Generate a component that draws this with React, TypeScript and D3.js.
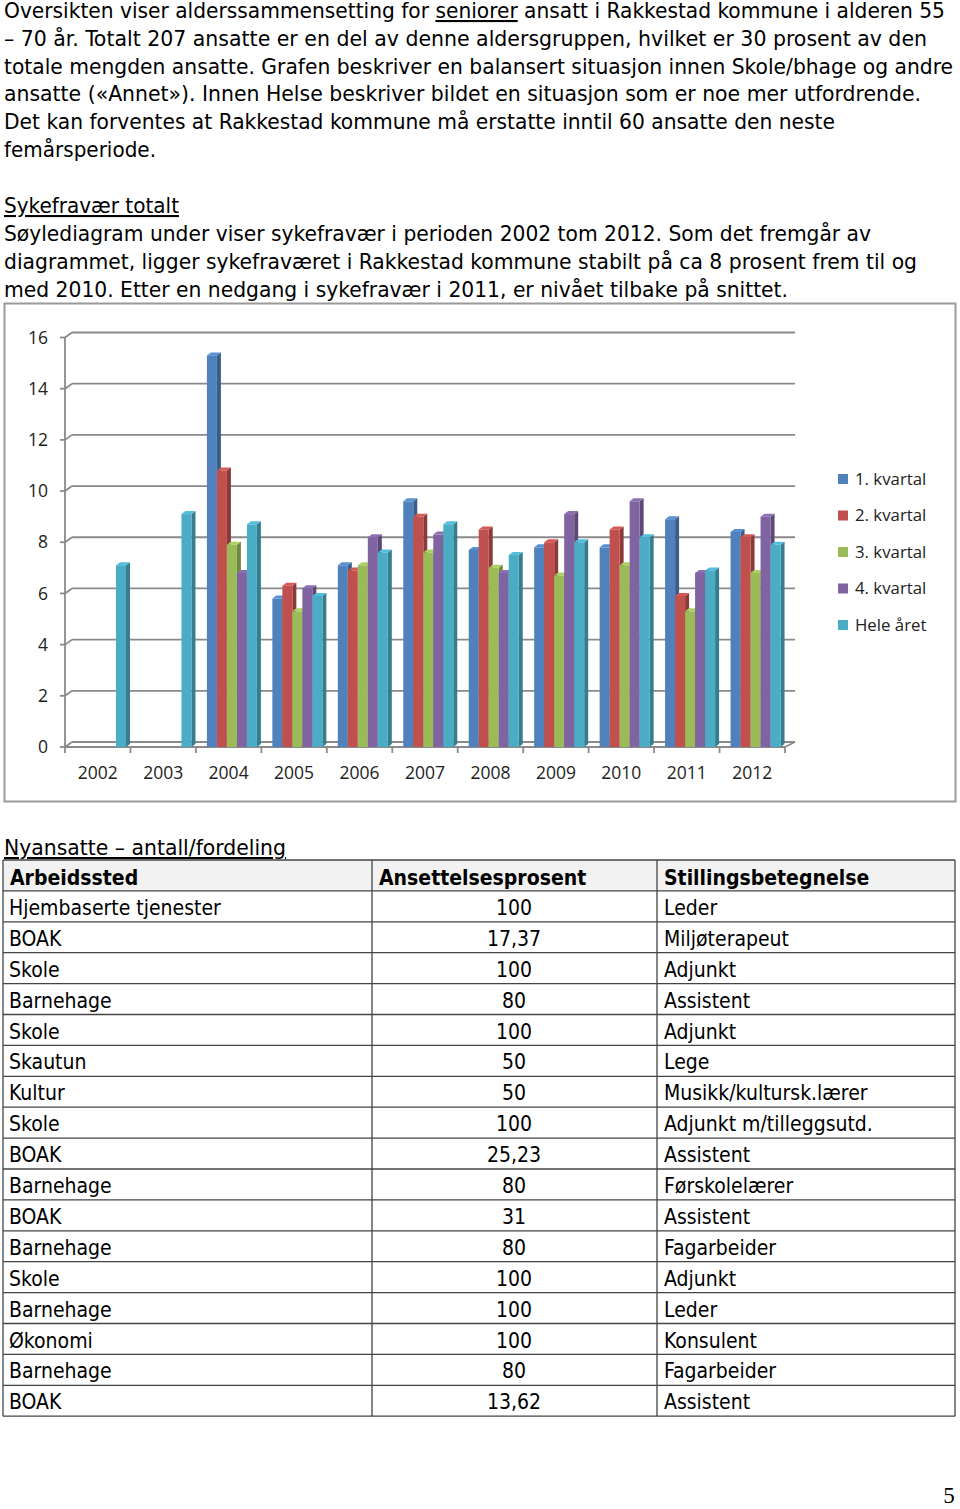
import React from "react";
import * as d3 from "d3";

const years = ["2002","2003","2004","2005","2006","2007","2008","2009","2010","2011","2012"];
const seriesNames = ["1. kvartal","2. kvartal","3. kvartal","4. kvartal","Hele året"];
const seriesColors = ["#4F81BD","#C0504D","#9BBB59","#8064A2","#4BACC6"];
const q1 = [null,null,15.3,5.8,7.1,9.6,7.7,7.8,7.8,8.9,8.4];
const q2 = [null,null,10.8,6.3,6.9,9.0,8.5,8.0,8.5,5.9,8.2];
const q3 = [null,null,7.9,5.3,7.1,7.6,7.0,6.7,7.1,5.3,6.8];
const q4 = [null,null,6.8,6.2,8.2,8.3,6.8,9.1,9.6,6.8,9.0];
const whole = [7.1,9.1,8.7,5.9,7.6,8.7,7.5,8.0,8.2,6.9,7.9];
const yTicks = [0,2,4,6,8,10,12,14,16];

const introLines = [
  "Oversikten viser alderssammensetting for |seniorer| ansatt i Rakkestad kommune i alderen 55",
  "– 70 år. Totalt 207 ansatte er en del av denne aldersgruppen, hvilket er 30 prosent av den",
  "totale mengden ansatte. Grafen beskriver en balansert situasjon innen Skole/bhage og andre",
  "ansatte («Annet»). Innen Helse beskriver bildet en situasjon som er noe mer utfordrende.",
  "Det kan forventes at Rakkestad kommune må erstatte inntil 60 ansatte den neste",
  "femårsperiode.",
];
const introWidths = [941, 923, 949, 917, 831, 152];
const sickTitle = "Sykefravær totalt";
const sickLines = [
  "Søylediagram under viser sykefravær i perioden 2002 tom 2012. Som det fremgår av",
  "diagrammet, ligger sykefraværet i Rakkestad kommune stabilt på ca 8 prosent frem til og",
  "med 2010. Etter en nedgang i sykefravær i 2011, er nivået tilbake på snittet.",
];
const sickWidths = [867, 913, 784];

const tableTitle = "Nyansatte – antall/fordeling";
const tableHeader = ["Arbeidssted","Ansettelsesprosent","Stillingsbetegnelse"];
const colWorkplace = ["Hjembaserte tjenester","BOAK","Skole","Barnehage","Skole","Skautun","Kultur","Skole","BOAK","Barnehage","BOAK","Barnehage","Skole","Barnehage","Økonomi","Barnehage","BOAK"];
const colPercent = ["100","17,37","100","80","100","50","50","100","25,23","80","31","80","100","100","100","80","13,62"];
const colTitle = ["Leder","Miljøterapeut","Adjunkt","Assistent","Adjunkt","Lege","Musikk/kultursk.lærer","Adjunkt m/tilleggsutd.","Assistent","Førskolelærer","Assistent","Fagarbeider","Adjunkt","Leder","Konsulent","Fagarbeider","Assistent"];

const BODY_FONT = "'DejaVu Sans Condensed', 'DejaVu Sans', sans-serif";
const CHART_FONT = "'Open Sans', sans-serif";

function renderLine(line: string, x: number, y: number, w: number, key: string) {
  const parts = line.split("|");
  return (
    <text key={key} x={x} y={y} fontFamily={BODY_FONT} fontSize={21} fill="#000" textLength={w} lengthAdjust="spacingAndGlyphs">
      {parts.map((p, i) => (
        <tspan key={i} textDecoration={i % 2 === 1 ? "underline" : undefined}>{p}</tspan>
      ))}
    </text>
  );
}

export default function App() {
  const W = 960, H = 1509;
  const xLeft = 65, xRight = 785;
  const y = d3.scaleLinear().domain([0, 16]).range([747, 337.5]);
  const x = d3.scaleBand().domain(years).range([xLeft, xRight]).paddingInner(0).paddingOuter(0);
  const inner = d3.scaleBand().domain(seriesNames).range([11, 61]).padding(0);
  const depthX = 7, depthY = -5;
  const bDx = 4, bDy = -3;
  const allSeries = [q1, q2, q3, q4, whole];

  const bars: any[] = [];
  allSeries.forEach((vals, s) => {
    vals.forEach((v, i) => {
      if (v == null) return;
      const bx = (x(years[i]) as number) + (inner(seriesNames[s]) as number);
      const bw = inner.bandwidth();
      const top = y(v);
      const base = y(0);
      const col = seriesColors[s];
      const dark = d3.color(col)!.darker(0.9).toString();
      const light = d3.color(col)!.brighter(0.3).toString();
      bars.push({ key: `${s}-${i}`, bx, bw, top, base, col, dark, light, order: i * 10 + s });
    });
  });
  bars.sort((a, b) => a.order - b.order);

  const rowTop = 860, rowH = 30.9;
  const colX = [3, 372, 657, 955];
  const nRows = colWorkplace.length + 1;
  const gridCol = "#8a8a8a";

  return (
    <svg width={W} height={H} style={{ position: "absolute", left: 0, top: 0, background: "#fff" }}>
      <rect x={0} y={0} width={W} height={H} fill="#fff" />
      {introLines.map((l, i) => renderLine(l, 4, 18 + i * 27.8, introWidths[i], "intro" + i))}
      <text x={4} y={213} fontFamily={BODY_FONT} fontSize={21} textDecoration="underline" textLength={175} lengthAdjust="spacingAndGlyphs">{sickTitle}</text>
      {sickLines.map((l, i) => renderLine(l, 4, 241 + i * 27.8, sickWidths[i], "sick" + i))}

      <rect x={4.5} y={303.5} width={951} height={498} fill="#fff" stroke="#9a9a9a" strokeWidth={2} />
      {yTicks.map((t) => (
        <g key={"g" + t}>
          <line x1={xLeft - 5} x2={xLeft} y1={y(t)} y2={y(t)} stroke={gridCol} strokeWidth={1.8} />
          <line x1={xLeft} x2={xLeft + depthX} y1={y(t)} y2={y(t) + depthY} stroke={gridCol} strokeWidth={1.8} />
          <line x1={xLeft + depthX} x2={xRight + depthX + 3} y1={y(t) + depthY} y2={y(t) + depthY} stroke={gridCol} strokeWidth={1.8} />
          <text x={48} y={y(t)} dy="0.35em" textAnchor="end" fontFamily={CHART_FONT} fontSize={17.5} fill="#222">{t}</text>
        </g>
      ))}
      <line x1={xLeft} x2={xLeft} y1={y(16)} y2={y(0)} stroke={gridCol} strokeWidth={1.8} />
      <line x1={xLeft} x2={xRight} y1={y(0)} y2={y(0)} stroke={gridCol} strokeWidth={1.8} />
      <line x1={xRight} x2={xRight + depthX + 3} y1={y(0)} y2={y(0) + depthY} stroke={gridCol} strokeWidth={1.8} />
      {years.concat(["end"]).map((yr, i) => {
        const xx = xLeft + i * x.step();
        return <line key={"xt" + i} x1={xx} x2={xx} y1={y(0)} y2={y(0) + 6} stroke={gridCol} strokeWidth={1.8} />;
      })}
      {years.map((yr) => (
        <text key={"xl" + yr} x={(x(yr) as number) + x.bandwidth() / 2} y={773} dy="0.35em" textAnchor="middle" fontFamily={CHART_FONT} fontSize={17.5} fill="#222">{yr}</text>
      ))}
      {bars.map((b) => (
        <g key={b.key}>
          <polygon points={`${b.bx + b.bw},${b.top} ${b.bx + b.bw + bDx},${b.top + bDy} ${b.bx + b.bw + bDx},${b.base + bDy} ${b.bx + b.bw},${b.base}`} fill={b.dark} />
          <polygon points={`${b.bx},${b.top} ${b.bx + bDx},${b.top + bDy} ${b.bx + b.bw + bDx},${b.top + bDy} ${b.bx + b.bw},${b.top}`} fill={b.light} />
          <rect x={b.bx} y={b.top} width={b.bw} height={b.base - b.top} fill={b.col} />
        </g>
      ))}
      {seriesNames.map((n, i) => (
        <g key={"lg" + i} transform={`translate(838, ${479 + i * 36.5})`}>
          <rect x={0} y={-5} width={10} height={10} fill={seriesColors[i]} />
          <text x={17} y={0} dy="0.35em" fontFamily={CHART_FONT} fontSize={16.8} fill="#222">{n}</text>
        </g>
      ))}

      <text x={4} y={855} fontFamily={BODY_FONT} fontSize={21} textDecoration="underline" textLength={282} lengthAdjust="spacingAndGlyphs">{tableTitle}</text>
      <rect x={colX[0]} y={rowTop} width={colX[3] - colX[0]} height={rowH} fill="#f2f2f2" />
      {d3.range(nRows + 1).map((r) => (
        <line key={"hr" + r} x1={colX[0]} x2={colX[3]} y1={rowTop + r * rowH} y2={rowTop + r * rowH} stroke="#444" strokeWidth={1.3} />
      ))}
      {colX.map((cx, i) => (
        <line key={"vc" + i} x1={cx} x2={cx} y1={rowTop} y2={rowTop + nRows * rowH} stroke="#444" strokeWidth={1.3} />
      ))}
      {tableHeader.map((h, i) => (
        <text key={"th" + i} x={colX[i] + 7} y={rowTop + 25} fontFamily={BODY_FONT} fontSize={21} fontWeight="bold">{h}</text>
      ))}
      {colWorkplace.map((w, r) => {
        const yy = rowTop + (r + 1) * rowH + 24;
        return (
          <g key={"tr" + r}>
            <text x={colX[0] + 6} y={yy} fontFamily={BODY_FONT} fontSize={21}>{w}</text>
            <text x={514} y={yy} textAnchor="middle" fontFamily={BODY_FONT} fontSize={21}>{colPercent[r]}</text>
            <text x={colX[2] + 7} y={yy} fontFamily={BODY_FONT} fontSize={21}>{colTitle[r]}</text>
          </g>
        );
      })}
      <text x={949} y={1503} textAnchor="middle" fontFamily="'Liberation Serif', serif" fontSize={23}>5</text>
    </svg>
  );
}
